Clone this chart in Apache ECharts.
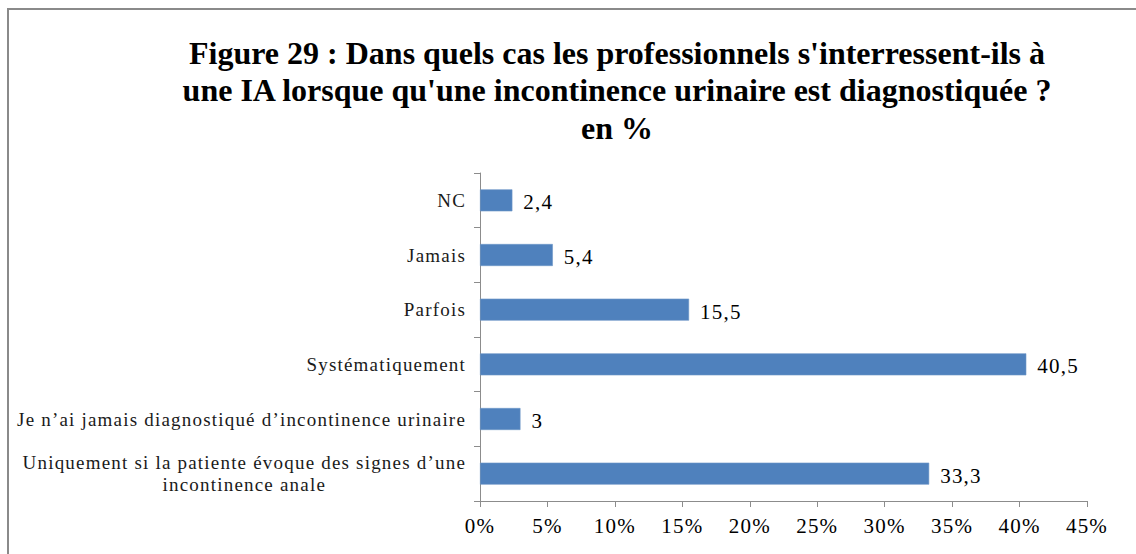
<!DOCTYPE html>
<html>
<head>
<meta charset="utf-8">
<script src="https://cdn.jsdelivr.net/npm/echarts@6/dist/echarts.min.js"></script>
<style>
  html, body { margin: 0; padding: 0; background: #fff; }
  #chart { width: 1136px; height: 554px; }
  /* regular-weight serif labels are set slightly spaced out; the bold title keeps normal spacing */
  #chart text { letter-spacing: 1.2px; }
  #chart text[style*="bold"] { letter-spacing: 0; }
</style>
</head>
<body>
<div id="chart"></div>
<script>
// Answers, top to bottom
const categories = [
  'NC',
  'Jamais',
  'Parfois',
  'Systématiquement',
  'Je n’ai jamais diagnostiqué d’incontinence urinaire',
  'Uniquement si la patiente évoque des signes d’une\nincontinence anale'
];
// Share of respondents, in %
const values = [2.4, 5.4, 15.5, 40.5, 3, 33.3];
// Percentage axis
const axisMin = 0;
const axisMax = 45;
const axisStep = 5;

const titleText = 'Figure 29 : Dans quels cas les professionnels s\'interressent-ils à\n' +
  'une IA lorsque qu\'une incontinence urinaire est diagnostiquée ?\nen %';

const SERIF = 'Liberation Serif, serif';
const LABEL_SPACING = 1.2;

// Text measurement that knows about the letter spacing used for the labels
const measureCtx = document.createElement('canvas').getContext('2d');
if (typeof echarts.setPlatformAPI === 'function') {
  echarts.setPlatformAPI({
    measureText: function (text, font) {
      font = font || '12px sans-serif';
      measureCtx.font = font;
      measureCtx.letterSpacing = /bold/.test(font) ? '0px' : LABEL_SPACING + 'px';
      return measureCtx.measureText(text);
    }
  });
}

const fmtComma = v => String(v).replace('.', ',');

const chart = echarts.init(document.getElementById('chart'), null, { renderer: 'svg' });

chart.setOption({
  animation: false,
  backgroundColor: '#ffffff',
  title: {
    text: titleText,
    left: 612,
    top: 29,
    textAlign: 'center',
    textStyle: {
      fontFamily: SERIF,
      fontWeight: 'bold',
      fontSize: 32,
      lineHeight: 37.5,
      color: '#000000'
    }
  },
  graphic: [{
    type: 'rect',
    silent: true,
    shape: { x: 8, y: 9, width: 1300, height: 700 },
    style: { fill: 'none', stroke: '#8a8a8a', lineWidth: 2 }
  }],
  grid: {
    left: 480,
    right: 49,
    top: 173,
    bottom: 53,
    outerBoundsMode: 'none'
  },
  xAxis: {
    type: 'value',
    min: axisMin,
    max: axisMax,
    interval: axisStep,
    axisLine: { show: true, lineStyle: { color: '#8c8c8c', width: 1 } },
    axisTick: { show: true, length: 6, lineStyle: { color: '#8c8c8c' } },
    splitLine: { show: false },
    axisLabel: {
      margin: 14,
      formatter: '{value}%',
      fontFamily: SERIF,
      fontSize: 21,
      color: '#000000'
    }
  },
  yAxis: {
    type: 'category',
    inverse: true,
    data: categories,
    axisLine: { show: true, lineStyle: { color: '#8c8c8c', width: 1 } },
    axisTick: { show: true, length: 6, lineStyle: { color: '#8c8c8c' } },
    splitLine: { show: false },
    axisLabel: {
      margin: 14,
      color: '#1a1a1a',
      fontFamily: SERIF,
      fontSize: 19,
      lineHeight: 22,
      formatter: function (v) {
        return v.split('\n').map(line => '{c|' + line + '}').join('\n');
      },
      rich: {
        c: {
          align: 'center',
          fontFamily: SERIF,
          fontSize: 19,
          lineHeight: 22,
          color: '#1a1a1a'
        }
      }
    }
  },
  series: [{
    type: 'bar',
    data: values,
    barWidth: 22,
    itemStyle: { color: '#4f81bd', borderColor: '#6f97c8', borderWidth: 0.6 },
    label: {
      show: true,
      position: 'right',
      distance: 11,
      offset: [0, 2],
      formatter: p => fmtComma(p.value),
      fontFamily: SERIF,
      fontSize: 21,
      color: '#000000',
      textBorderWidth: 0
    }
  }]
});
</script>
</body>
</html>
